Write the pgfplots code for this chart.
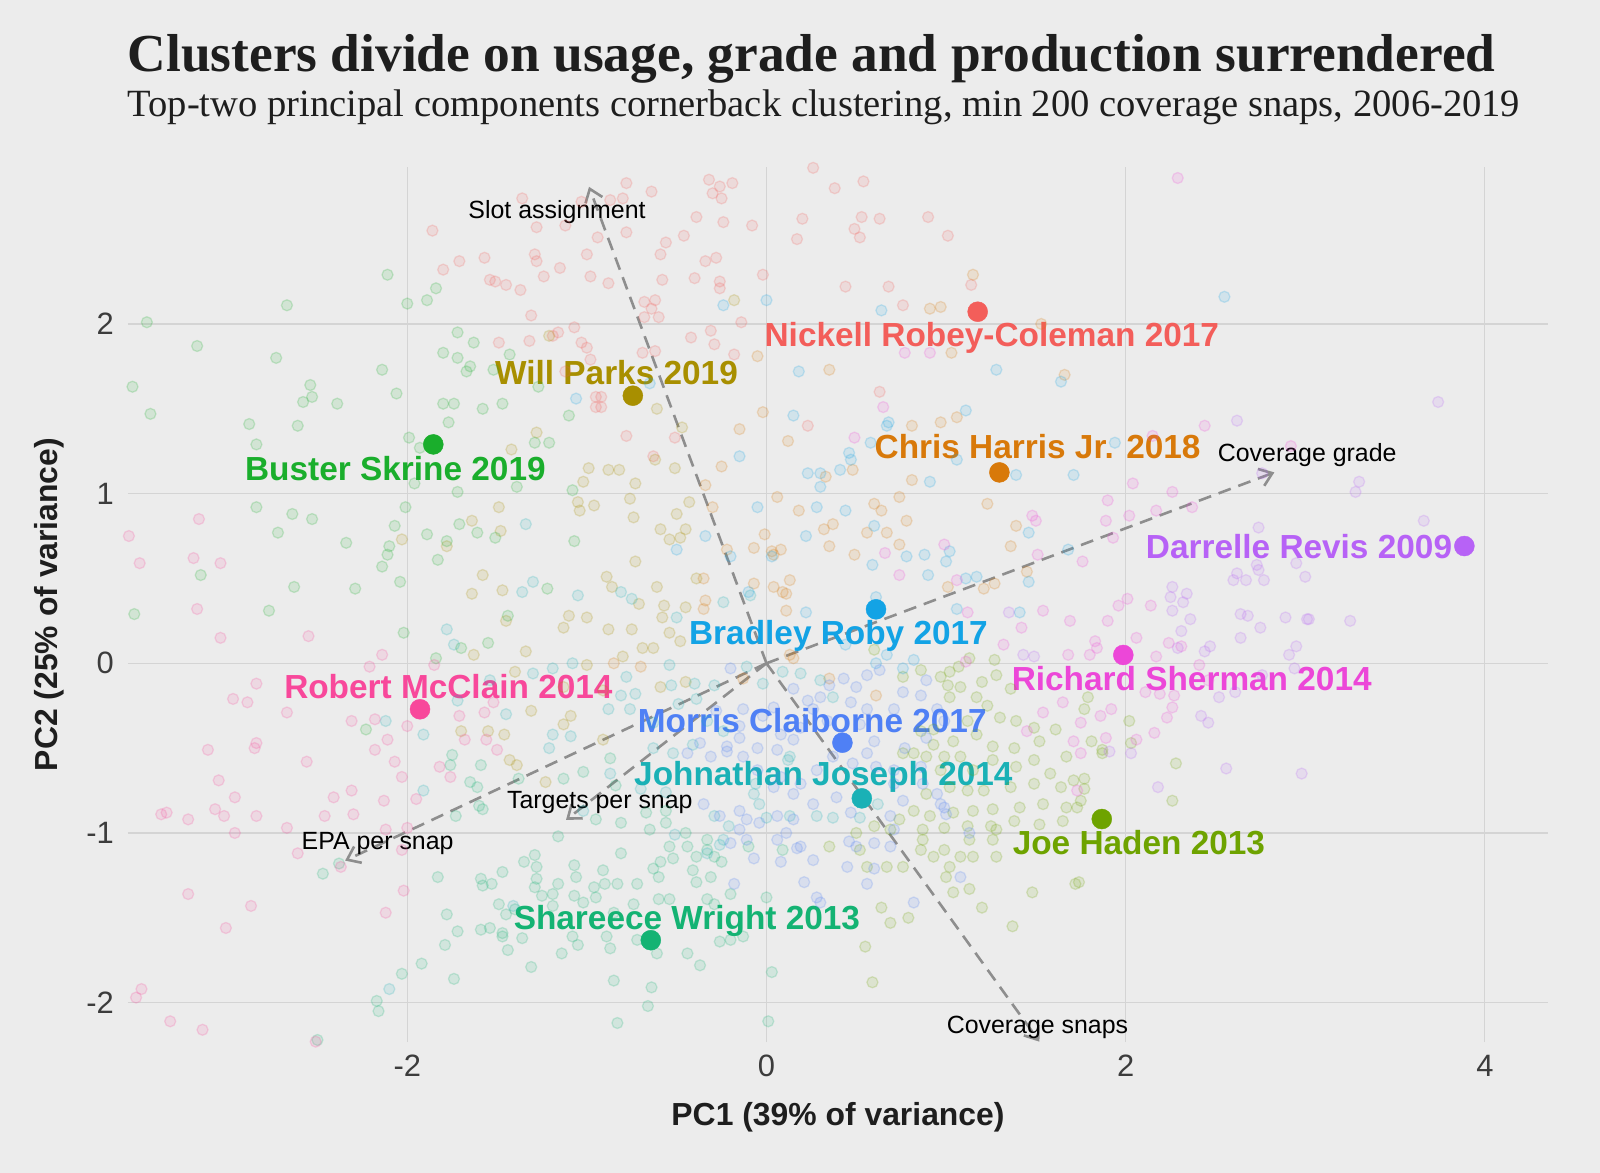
\documentclass[border=0pt]{standalone}
\usepackage{pgfplots}
\pgfplotsset{compat=1.18}
\usepackage{fontspec}
\setmainfont{Liberation Serif}
\newfontfamily\sansf{Liberation Sans}
\usetikzlibrary{arrows.meta}
\definecolor{bg}{HTML}{ECECEC}
\definecolor{gridc}{HTML}{D4D4D4}
\definecolor{titlec}{HTML}{1E1E1E}
\definecolor{tickc}{HTML}{3C3C3C}
\definecolor{arrowc}{HTML}{8E8E8E}
\definecolor{cnrc}{HTML}{F35E5A}
\definecolor{cchj}{HTML}{D8790A}
\definecolor{cwp}{HTML}{A88F00}
\definecolor{cjh}{HTML}{6EA300}
\definecolor{cbs}{HTML}{1AAE2C}
\definecolor{csw}{HTML}{14B373}
\definecolor{cjj}{HTML}{1AB1B6}
\definecolor{cbr}{HTML}{13A3E5}
\definecolor{cmc}{HTML}{4F80F5}
\definecolor{cdr}{HTML}{B762F6}
\definecolor{crs}{HTML}{EC47D8}
\definecolor{crm}{HTML}{F8489B}
\pgfplotsset{
  bgpt/.style={only marks, mark=*, mark size=5.5bp, color=#1,
    mark options={draw=#1, fill=#1, fill opacity=0.12, draw opacity=0.2, line width=1.3bp}},
  hlpt/.style={only marks, mark=*, mark size=10bp, color=#1, mark options={draw=#1, fill=#1}},
  ldg/.style={arrowc, line width=2.6bp, dash pattern=on 13bp off 8bp,
    -{Straight Barb[length=12bp,width=18bp]}}
}
\newcommand{\hlfont}{\sansf\bfseries\fontsize{33.5}{33.5}\selectfont}
\newcommand{\arfont}{\sansf\fontsize{25}{25}\selectfont}
\begin{document}
\begin{tikzpicture}
% axis box lower-left corner sits at (0,0); page is 1600bp x 1173bp
\fill[bg] (-128bp,-131bp) rectangle (1472bp,1042bp);
\useasboundingbox (-128bp,-131bp) rectangle (1472bp,1042bp);
\node[anchor=base west, inner sep=0pt, text=titlec, font=\bfseries\fontsize{53.6}{53.6}\selectfont] at (-0.5bp,970.3bp) {Clusters divide on usage, grade and production surrendered};
\node[anchor=base west, inner sep=0pt, text=titlec, font=\fontsize{38.7}{38.7}\selectfont] at (-0.5bp,925.3bp) {Top-two principal components cornerback clustering, min 200 coverage snaps, 2006-2019};
\begin{axis}[
  scale only axis, width=1420bp, height=875bp,
  xmin=-3.555, xmax=4.352, ymin=-2.232, ymax=2.925,
  axis line style={draw=none}, tick style={draw=none},
  grid=major, major grid style={color=gridc, line width=1.3bp},
  xtick={-2,0,2,4}, xticklabels={-2,0,2,4},
  ytick={-2,-1,0,1,2}, yticklabels={-2,-1,0,1,2},
  ticklabel style={font=\sansf\fontsize{31}{31}\selectfont, text=tickc},
  xticklabel style={anchor=north, inner sep=0pt, yshift=-13bp},
  yticklabel style={anchor=east, inner sep=0pt, xshift=-14bp},
  xlabel={PC1 (39\% of variance)}, ylabel={PC2 (25\% of variance)},
  label style={font=\sansf\bfseries\fontsize{32}{32}\selectfont, text=titlec},
  xlabel style={at={(axis description cs:0.5,-0.0855)}, anchor=center, inner sep=0pt},
  ylabel style={at={(axis description cs:-0.0553,0.5)}, anchor=center, inner sep=0pt},
  clip=false,
]
% red cluster
\addplot[bgpt=cnrc] coordinates {
(-1.86,2.55) (-1.80,2.32) (-1.71,2.37) (-1.57,2.39) (-1.54,2.26) (-1.51,2.25) (-1.45,2.23) (-1.37,2.20) (-1.36,2.74) (-1.28,2.57) (-1.29,2.41) (-1.28,2.37) (-1.24,2.28) (-1.15,2.33) (-1.12,2.58) (-1.03,2.72) (-1.00,2.41) (-0.98,2.28) (-0.94,2.51) (-1.31,2.05) (-1.49,1.89) (-1.32,1.90) (-1.16,1.95) (-1.19,1.93) (-1.07,1.98) (-1.03,1.89) (-1.00,1.86) (-0.98,1.79) (-1.12,1.72) (-0.95,1.57) (-0.95,1.51)
(0.26,2.92) (-0.78,2.83) (-0.64,2.78) (-0.32,2.85) (-0.26,2.81) (-0.19,2.83) (-0.30,2.77) (-0.25,2.74) (0.38,2.80) (0.54,2.84) (-0.39,2.63) (-0.24,2.60) (-0.08,2.58) (0.20,2.62) (0.53,2.63) (0.63,2.62) (0.90,2.63) (0.49,2.56) (0.52,2.51) (0.17,2.50) (1.01,2.52) (-0.78,2.54) (-0.87,2.73) (-0.80,2.74) (-0.56,2.48) (-0.46,2.52) (-0.59,2.41) (-0.34,2.37) (-0.28,2.39) (-0.58,2.26) (-0.40,2.27) (-0.88,2.24) (-0.26,2.25) (-0.26,2.21) (-0.02,2.29) (-0.68,2.13) (-0.62,2.14) (-0.64,2.09) (-0.68,2.04) (-0.60,2.04) (-0.14,2.01) (-0.42,1.92) (-0.31,1.96) (-0.29,1.88) (-0.69,1.83) (-0.62,1.84) (-0.18,1.82) (0.44,2.22) (0.68,2.22) (0.76,2.11) (1.14,2.23) (0.63,1.60) (0.23,1.40) (-0.78,1.34) (-0.51,1.33) (-0.63,1.22) (-0.92,1.57) (-0.92,1.51)
};
% orange cluster
\addplot[bgpt=cchj] coordinates {
(1.15,2.29) (0.91,2.09) (0.97,2.10) (1.03,1.83) (1.53,2.00) (1.66,1.70) (0.35,1.73) (-0.05,1.81) (-0.02,1.48) (-0.15,1.38) (0.81,1.40) (0.97,1.42) (1.06,1.45) (0.12,1.31)
(-0.25,1.16) (-0.30,0.92) (-0.34,1.05) (-0.35,0.50) (-0.22,0.67) (-0.07,0.68) (-0.01,0.76) (0.03,0.66) (0.04,0.64) (0.08,0.67) (-0.07,0.47) (0.04,0.45) (0.09,0.42) (0.11,0.41) (0.13,0.49) (0.11,0.31) (0.06,0.98) (0.18,0.90) (0.32,0.79) (0.37,0.82) (0.35,0.69) (0.49,0.64) (0.56,0.77) (0.60,0.94) (0.64,0.90) (0.67,0.77) (0.74,0.70) (0.78,0.84) (0.74,0.98) (0.48,1.14) (0.33,1.10) (1.23,0.94) (1.39,0.81) (1.36,0.69) (1.45,0.54) (1.27,0.47) (1.01,0.45) (0.81,1.08) (0.15,0.03) (0.13,0.05) (0.61,-0.19) (0.35,-0.09) (-0.13,-0.09) (-0.34,0.37) (-0.35,0.32) (1.21,0.44)
(-0.85,0.00) (-0.70,-0.02)
};
% olive cluster
\addplot[bgpt=cwp] coordinates {
(-1.21,1.93) (-1.28,1.36) (-1.42,1.26) (-0.61,1.50) (-0.47,1.39) (-0.18,2.14)
(-1.64,0.84) (-1.49,0.92) (-1.48,0.78) (-1.78,0.69) (-2.03,0.73) (-1.58,0.52) (-1.64,0.41) (-1.47,0.43) (-1.45,0.25) (-1.63,0.05) (-1.34,0.07) (-1.40,-0.05) (-1.31,-0.28) (-1.13,0.21) (-1.10,0.28) (-1.00,0.27) (-1.00,-0.01) (-1.09,-0.31) (-1.13,-0.36) (-1.55,-0.40) (-1.46,-0.42) (-1.70,-0.40)
(-1.02,1.07) (-0.99,1.15) (-1.05,0.95) (-1.04,0.90) (-0.96,0.93)
(-0.88,1.14) (-0.82,1.14) (-0.73,1.06) (-0.76,0.97) (-0.74,0.86) (-0.62,1.20) (-0.51,1.15) (-0.59,0.79) (-0.54,0.73) (-0.48,0.74) (-0.45,0.79) (-0.50,0.88) (-0.43,0.95) (-0.73,0.60) (-0.89,0.51) (-0.86,0.45) (-0.61,0.45) (-0.39,0.50) (-0.71,0.35) (-0.57,0.34) (-0.45,0.33) (-0.75,0.20) (-0.88,0.20) (-0.58,0.27) (-0.54,0.18) (-0.48,0.13) (-0.69,0.09) (-0.63,0.09) (-0.80,0.04) (-0.45,-0.11) (-0.59,-0.14)
(-1.43,-0.57) (-1.39,-0.60) (-1.23,-0.70) (-1.13,-0.14) (-0.91,-0.16) (-0.91,-0.45)
};
% yellow-green cluster
\addplot[bgpt=cjh] coordinates {
(0.76,-0.08) (0.86,-0.04) (1.02,-0.05) (1.07,-0.02) (1.13,0.03) (1.01,-0.13) (1.20,-0.11) (1.27,0.02) (1.28,-0.07) (1.36,-0.15) (1.23,-0.25) (1.30,-0.32) (1.39,-0.34) (1.49,-0.38) (1.61,-0.39) (1.52,-0.46) (1.12,-0.34) (1.04,-0.46) (1.17,-0.42) (0.93,-0.48) (0.86,-0.40) (1.38,-0.50) (0.60,0.08)
(1.79,-0.20) (1.77,-0.27) (1.81,-0.46) (2.02,-0.34) (2.03,-0.47) (1.87,-0.51)
(0.82,-0.53) (0.89,-0.55) (0.97,-0.63) (1.08,-0.55) (1.15,-0.63) (1.26,-0.57) (1.39,-0.61) (1.49,-0.57) (1.58,-0.65) (1.67,-0.55) (1.71,-0.69) (1.64,-0.73) (1.49,-0.71) (1.36,-0.73) (1.21,-0.75) (1.12,-0.75) (1.02,-0.73) (0.89,-0.77) (0.82,-0.87) (0.91,-0.90) (1.04,-0.88) (1.15,-0.87) (1.26,-0.86) (1.41,-0.85) (1.54,-0.83) (1.67,-0.85) (1.65,-0.93) (1.52,-0.95) (1.38,-0.93) (1.25,-0.96) (1.12,-0.96) (0.99,-0.97) (0.87,-0.98) (0.69,-0.98) (0.60,-0.96) (0.50,-1.00) (0.35,-1.08) (0.52,-1.10) (0.56,-1.20) (0.67,-1.20) (0.76,-1.20) (0.86,-1.10) (0.93,-1.14) (0.99,-1.10) (1.08,-1.14) (1.02,-1.20) (1.15,-1.14) (1.28,-1.14) (1.28,-0.98) (1.00,-1.26) (1.04,-1.35) (1.13,-1.33) (1.20,-1.44) (1.37,-1.55) (1.48,-1.35) (1.72,-1.30) (0.79,-1.50) (0.69,-1.53) (0.64,-1.44) (0.55,-1.67) (0.59,-1.88)
(2.28,-0.59) (2.26,-0.81) (1.77,-0.68) (1.77,-0.74) (1.75,-0.81) (1.74,-1.29) (1.73,-0.85) (1.87,-0.53)
(0.97,-0.08) (1.02,-0.20) (1.08,-0.14) (1.17,-0.20) (0.93,-0.39) (0.76,-0.53) (0.99,-0.55) (1.26,-0.49) (0.74,-0.92) (0.87,-1.04) (1.13,-1.04) (1.26,-1.04)
};
% green cluster
\addplot[bgpt=cbs] coordinates {
(-2.11,2.29) (-2.67,2.11) (-3.45,2.01) (-3.17,1.87) (-2.73,1.80) (-2.00,2.12) (-1.89,2.14) (-1.84,2.21) (-1.72,1.95) (-1.63,1.89) (-1.80,1.83) (-1.72,1.80) (-1.65,1.75) (-1.67,1.72) (-1.43,1.82) (-1.52,1.73) (-2.14,1.73) (-2.54,1.64) (-2.53,1.57) (-2.58,1.54) (-2.39,1.53) (-2.06,1.59) (-3.53,1.63) (-3.43,1.47) (-2.88,1.41) (-2.61,1.40) (-2.84,1.29) (-1.80,1.53) (-1.74,1.53) (-1.77,1.42) (-1.58,1.50) (-1.47,1.53) (-1.99,1.33) (-1.93,1.27) (-1.27,1.63) (-1.10,1.46) (-1.29,1.30) (-1.21,1.30)
(-2.84,0.92) (-2.64,0.88) (-2.53,0.85) (-2.72,0.77) (-2.34,0.71) (-3.15,0.52) (-2.63,0.45) (-2.29,0.44) (-2.77,0.31) (-3.52,0.29) (-2.01,0.92) (-2.07,0.81) (-2.10,0.69) (-2.11,0.64) (-2.14,0.57) (-2.04,0.48) (-2.02,0.18) (-1.89,0.76) (-1.78,0.72) (-1.83,0.61) (-1.71,0.82) (-1.61,0.77) (-1.51,0.74) (-1.72,1.01) (-1.96,1.06) (-1.55,0.12) (-1.44,0.28) (-1.70,0.09) (-1.84,0.03) (-1.07,0.72) (-1.22,0.44) (-1.08,1.02) (-1.39,1.04) (-2.23,-0.39)
};
% teal-green cluster
\addplot[bgpt=csw] coordinates {
(-2.47,-1.24) (-2.38,-1.18) (-1.73,-0.90) (-1.65,-0.70) (-1.61,-0.73) (-1.59,-0.60) (-1.76,-0.60) (-1.75,-0.54) (-1.58,-0.86) (-1.60,-0.84) (-1.38,-0.68) (-1.02,-0.64) (-1.13,-0.68) (-1.16,-1.02) (-1.35,-1.17) (-1.29,-1.13) (-1.28,-1.20) (-1.28,-1.27) (-1.29,-1.32) (-1.25,-1.37) (-1.19,-1.36) (-1.16,-1.30) (-1.07,-1.19) (-1.06,-1.26) (-1.07,-1.37) (-1.02,-1.41) (-1.19,-1.43) (-1.47,-1.23) (-1.53,-1.30) (-1.59,-1.27) (-1.58,-1.31) (-1.49,-1.42) (-1.45,-1.48) (-1.40,-1.45) (-1.59,-1.57) (-1.54,-1.56) (-1.47,-1.59) (-1.47,-1.61) (-1.44,-1.69) (-1.36,-1.62) (-1.31,-1.79) (-1.14,-1.71) (-1.08,-1.61) (-1.05,-1.66) (-1.72,-1.58) (-1.78,-1.48) (-1.83,-1.26) (-1.79,-1.66) (-1.92,-1.77) (-2.03,-1.83) (-1.74,-1.86) (-2.17,-1.99) (-2.16,-2.05) (-0.96,-1.32) (-0.95,-1.38) (-2.50,-2.22)
(-0.87,-0.56) (-0.84,-0.72) (-0.81,-0.94) (-0.67,-0.88) (-0.65,-0.98) (-0.56,-0.87) (-0.45,-1.00) (-0.44,-1.08) (-0.39,-1.14) (-0.33,-1.10) (-0.29,-1.14) (-0.25,-1.17) (-0.59,-1.17) (-0.63,-1.21) (-0.60,-1.26) (-0.81,-1.12) (-0.91,-1.22) (-0.90,-1.30) (-0.83,-1.30) (-0.72,-1.30) (-0.52,-1.15) (-0.41,-1.22) (-0.39,-1.29) (-0.31,-1.26) (-0.60,-1.39) (-0.54,-1.39) (-0.33,-1.39) (-0.29,-1.42) (-0.74,-1.42) (-0.85,-1.47) (-0.89,-1.61) (-0.87,-1.68) (-0.72,-1.63) (-0.61,-1.71) (-0.44,-1.71) (-0.37,-1.78) (-0.26,-1.64) (-0.20,-1.63) (-0.85,-1.87) (-0.64,-1.91) (-0.66,-2.02) (-0.83,-2.12) (0.01,-2.11) (0.03,-1.82) (-0.13,-1.61) (0.00,-1.38) (-0.20,-1.36) (-0.10,-1.08) (0.09,-1.10)
(-0.95,-0.92) (-0.56,-0.94) (-0.54,-1.08) (-0.33,-1.04)
};
% teal cluster
\addplot[bgpt=cjj] coordinates {
(-1.34,0.82) (-1.30,0.48) (-1.36,0.42) (-1.05,0.40) (-1.78,0.20) (-1.74,0.11) (-1.08,0.00) (-1.19,-0.03) (-1.30,-0.06) (-1.54,-0.10) (-1.72,-0.22) (-1.45,-0.30) (-1.19,-0.42) (-1.21,-0.50) (-1.91,-0.42) (-2.12,-0.34)
(-0.81,0.42) (-0.75,0.38) (-0.50,0.27) (-0.24,0.36) (-0.09,0.40) (-0.54,-0.01) (-0.78,-0.08) (-0.81,-0.19) (-0.73,-0.18) (-0.88,-0.27) (-0.76,-0.27) (-0.53,-0.13) (-0.40,-0.12) (-0.49,-0.24) (-0.39,-0.21) (-0.29,-0.13) (-0.11,-0.02) (0.09,-0.05) (-0.02,-0.12) (-0.63,-0.50) (-0.41,-0.48) (-0.24,-0.40) (-0.33,-0.34)
(-1.91,-0.75) (-2.10,-1.92) (-1.41,-1.43) (-1.02,-0.87)
(-0.70,-0.74) (-0.56,-0.76) (-0.51,-1.01) (-0.33,-1.12) (-0.26,-1.07) (-0.21,-0.96) (-0.29,-0.90) (-0.07,-0.77) (-0.06,-0.71) (-0.04,-0.83) (0.00,-0.91) (0.12,-0.57) (0.28,-0.90) (0.37,-0.91) (0.62,-0.83) (0.52,-0.91) (0.13,-0.90)
(-0.63,-0.35) (-0.52,-0.53) (-0.87,-0.65) (-1.09,-0.43) (-0.24,-1.04) (0.19,-0.06) (0.30,-0.10) (0.37,-0.20) (0.13,-0.55)
};
% light blue cluster
\addplot[bgpt=cbr] coordinates {
(-1.06,1.56) (-0.24,2.11) (0.00,2.14) (0.64,2.08) (0.18,1.72) (1.28,1.73) (1.64,1.66) (0.15,1.46) (1.11,1.49) (0.68,1.42) (0.67,1.40) (0.58,1.30) (0.46,1.24) (-0.15,1.22) (-0.65,1.65) (2.55,2.16) (1.94,1.30)
(-0.05,0.92) (0.28,0.92) (0.44,0.90) (0.23,1.12) (0.30,1.12) (0.30,1.04) (0.41,1.14) (0.47,1.20) (0.91,1.07) (1.06,1.20) (1.39,1.11) (1.71,1.11) (1.46,0.77) (1.46,0.48) (1.17,0.51) (1.11,0.50) (1.00,0.60) (1.02,0.66) (0.88,0.64) (0.90,0.52) (0.78,0.63) (0.59,0.58) (0.60,0.81) (0.22,0.75) (-0.34,0.75) (-0.20,0.63) (0.03,0.63) (-0.50,0.67) (-0.10,0.42) (0.61,0.39) (0.22,0.30) (1.06,0.32) (1.41,0.30) (1.68,0.67) (0.67,0.05) (0.76,-0.03) (0.82,0.02) (0.61,0.00) (0.44,0.11)
};
% blue cluster
\addplot[bgpt=cmc] coordinates {
(-0.20,-0.03) (0.04,-0.26) (0.15,-0.15) (0.23,-0.22) (0.26,-0.27) (0.35,-0.13) (0.43,-0.09) (0.50,-0.14) (0.56,-0.07) (0.47,-0.23) (0.56,-0.27) (0.71,-0.27) (0.76,-0.17) (0.86,-0.19) (0.95,-0.27) (0.99,-0.34) (0.89,-0.44) (0.77,-0.50) (0.60,-0.46) (0.52,-0.36) (0.34,-0.34) (0.19,-0.38) (0.08,-0.42) (-0.05,-0.50) (-0.15,-0.44) (-0.22,-0.49) (-0.02,-0.31) (-0.13,-0.27)
(-0.31,-0.55) (-0.22,-0.52) (-0.13,-0.55) (-0.05,-0.63) (0.04,-0.73) (0.19,-0.71) (0.28,-0.63) (0.37,-0.55) (0.48,-0.59) (0.56,-0.53) (0.61,-0.61) (0.71,-0.71) (0.76,-0.81) (0.69,-0.90) (0.71,-0.98) (0.60,-1.06) (0.69,-1.08) (0.46,-1.05) (0.50,-1.08) (0.45,-1.20) (0.60,-1.21) (0.56,-1.30) (0.82,-1.41) (0.26,-1.16) (0.19,-1.08) (0.17,-1.09) (0.21,-1.29) (0.28,-1.38) (0.30,-1.41) (0.08,-1.17) (0.06,-1.04) (-0.11,-0.92) (-0.15,-0.87) (-0.15,-0.98) (-0.20,-1.06) (-0.18,-1.30) (-0.07,-1.15) (0.11,-1.00) (0.26,-0.83) (0.39,-0.79) (0.86,-0.61) (0.99,-0.85) (1.00,-0.89) (1.13,-1.00) (1.08,-1.26) (0.97,-0.83)
(-0.28,-0.28) (0.06,-0.51) (0.15,-0.45) (0.30,-0.20) (0.71,-0.63) (0.47,-0.88) (0.15,-0.92) (0.06,-0.90) (-0.04,-0.94) (-0.26,-0.90) (-0.35,-0.83) (-0.11,-1.04) (0.87,-0.71) (0.95,-0.77) (0.89,-0.10) (0.63,-0.04) (0.15,-0.77) (0.08,-0.67) (-0.37,-0.47) (-0.44,-0.53) (-0.15,-0.37)
};
% purple cluster
\addplot[bgpt=cdr] coordinates {
(3.74,1.54) (2.62,1.43) (3.30,1.07) (3.28,1.01) (3.66,0.84) (2.74,0.80) (2.95,0.59) (3.00,0.51) (2.73,0.58) (2.74,0.55) (2.77,0.49) (2.62,0.53) (2.67,0.49) (2.60,0.49) (2.64,0.29) (2.68,0.28) (2.75,0.21) (2.89,0.27) (3.01,0.26) (3.02,0.26) (3.25,0.25) (2.95,0.10) (2.91,0.05) (2.64,0.15) (2.94,-0.03) (2.76,-0.07) (2.61,-0.17) (2.52,-0.20) (2.46,-0.35) (2.42,-0.31) (2.76,1.12) (2.56,-0.62) (2.98,-0.65) (2.18,-0.73) (2.03,-0.53) (1.91,-0.52) (2.26,0.45) (2.25,0.39) (2.32,0.36) (2.34,0.41) (2.26,0.31) (2.36,0.26) (2.31,0.19) (2.44,0.07) (2.47,0.10) (2.29,0.09) (1.35,0.30) (1.43,0.05) (1.49,0.04)
};
% magenta cluster
\addplot[bgpt=crs] coordinates {
(2.29,2.86) (2.44,1.40) (2.15,1.34) (2.92,1.28) (0.77,1.83) (0.91,1.83) (0.65,1.51) (0.49,1.33) (2.24,0.12) (2.31,0.10) (2.41,-0.01) (2.17,0.04) (2.14,0.34) (2.06,0.15) (2.01,0.38) (1.96,0.34) (1.90,0.25) (1.83,0.13) (1.84,0.09) (1.80,0.05) (1.76,0.60) (1.93,0.74) (1.89,0.84) (1.90,0.96) (2.02,0.87) (2.17,0.90) (2.26,1.01) (2.37,0.92) (2.04,1.06) (2.27,-0.19) (2.19,-0.18) (2.11,-0.17) (1.92,-0.27) (1.86,-0.31) (1.75,-0.35) (2.16,-0.41) (2.23,-0.32) (2.26,-0.26) (2.46,-0.10) (1.89,-0.44) (2.06,-0.45) (1.73,-0.75) (1.75,-0.53)
(0.74,0.52) (0.66,0.65) (0.99,0.70) (1.48,0.87) (1.50,0.84) (1.51,0.64) (1.54,0.31) (1.12,0.30) (1.69,0.25) (1.42,0.21) (1.32,0.11) (1.68,0.05) (1.11,0.01) (1.65,-0.23) (1.54,-0.29) (1.45,-0.40) (1.71,-0.46) (1.06,0.49)
};
% pink cluster
\addplot[bgpt=crm] coordinates {
(-3.16,0.85) (-3.49,0.59) (-3.19,0.62) (-3.04,0.59) (-3.17,0.32) (-3.04,0.15) (-2.55,0.16) (-2.14,0.05) (-2.21,-0.02) (-1.85,-0.01) (-2.84,-0.12) (-2.97,-0.21) (-2.89,-0.23) (-2.67,-0.29) (-2.31,-0.34) (-2.18,-0.33) (-2.00,-0.37) (-2.11,-0.45) (-1.71,-0.31) (-1.68,-0.45) (-1.57,-0.29) (-1.56,-0.45) (-1.52,-0.23) (-1.50,-0.51) (-2.84,-0.47) (-2.85,-0.50) (-3.11,-0.51) (-2.18,-0.51) (-3.55,0.75)
(-2.56,-0.58) (-2.07,-0.58) (-2.03,-0.67) (-3.05,-0.69) (-2.96,-0.79) (-3.07,-0.86) (-3.02,-0.90) (-2.84,-0.90) (-3.37,-0.89) (-3.34,-0.88) (-3.22,-0.92) (-2.96,-1.00) (-2.67,-0.97) (-2.46,-0.90) (-2.41,-0.79) (-2.31,-0.75) (-2.30,-0.89) (-2.13,-0.81) (-1.95,-0.80) (-2.12,-0.98) (-2.00,-0.97) (-1.82,-0.61) (-1.76,-0.67) (-2.61,-1.12) (-2.37,-1.20) (-2.02,-1.34) (-3.22,-1.36) (-2.87,-1.43) (-3.01,-1.56) (-2.12,-1.47) (-3.48,-1.92) (-3.51,-1.97) (-3.32,-2.11) (-3.14,-2.16) (-2.03,-1.10) (-2.51,-2.23)
};
% loading arrows
\addplot[ldg] coordinates {(0,0) (-0.988,2.808)};
\addplot[ldg] coordinates {(0,0) (1.52,-2.23)};
\addplot[ldg] coordinates {(0,0) (2.828,1.125)};
\addplot[ldg] coordinates {(0,0) (-2.346,-1.163)};
\addplot[ldg] coordinates {(0,0) (-1.116,-0.923)};
\node[anchor=base, font=\arfont, text=black] at (axis cs:-1.166,2.622) {Slot assignment};
\node[anchor=base, font=\arfont, text=black] at (axis cs:1.509,-2.180) {Coverage snaps};
\node[anchor=base, font=\arfont, text=black] at (axis cs:3.011,1.191) {Coverage grade};
\node[anchor=base, font=\arfont, text=black] at (axis cs:-2.165,-1.100) {EPA per snap};
\node[anchor=base, font=\arfont, text=black] at (axis cs:-0.928,-0.854) {Targets per snap};
% highlighted players
\addplot[hlpt=cnrc] coordinates {(1.176,2.072)};
\addplot[hlpt=cwp] coordinates {(-0.744,1.577)};
\addplot[hlpt=cbs] coordinates {(-1.855,1.290)};
\addplot[hlpt=cchj] coordinates {(1.297,1.125)};
\addplot[hlpt=cdr] coordinates {(3.886,0.691)};
\addplot[hlpt=cbr] coordinates {(0.610,0.318)};
\addplot[hlpt=crs] coordinates {(1.987,0.049)};
\addplot[hlpt=crm] coordinates {(-1.929,-0.271)};
\addplot[hlpt=cmc] coordinates {(0.423,-0.468)};
\addplot[hlpt=cjj] coordinates {(0.531,-0.796)};
\addplot[hlpt=cjh] coordinates {(1.867,-0.918)};
\addplot[hlpt=csw] coordinates {(-0.644,-1.632)};
\node[anchor=base, font=\hlfont, text=cnrc] at (axis cs:1.255,1.866) {Nickell Robey-Coleman 2017};
\node[anchor=base, font=\hlfont, text=cwp] at (axis cs:-0.835,1.646) {Will Parks 2019};
\node[anchor=base, font=\hlfont, text=cbs] at (axis cs:-2.066,1.080) {Buster Skrine 2019};
\node[anchor=base, font=\hlfont, text=cchj] at (axis cs:1.510,1.208) {Chris Harris Jr. 2018};
\node[anchor=base east, inner sep=0pt, font=\hlfont, text=cdr] at (axis cs:3.819,0.619) {Darrelle Revis 2009};
\node[anchor=base, font=\hlfont, text=cbr] at (axis cs:0.401,0.108) {Bradley Roby 2017};
\node[anchor=base, font=\hlfont, text=crs] at (axis cs:2.368,-0.161) {Richard Sherman 2014};
\node[anchor=base, font=\hlfont, text=crm] at (axis cs:-1.771,-0.206) {Robert McClain 2014};
\node[anchor=base, font=\hlfont, text=cmc] at (axis cs:0.255,-0.409) {Morris Claiborne 2017};
\node[anchor=base, font=\hlfont, text=cjj] at (axis cs:0.317,-0.723) {Johnathan Joseph 2014};
\node[anchor=base, font=\hlfont, text=cjh] at (axis cs:2.074,-1.126) {Joe Haden 2013};
\node[anchor=base, font=\hlfont, text=csw] at (axis cs:-0.443,-1.568) {Shareece Wright 2013};
\end{axis}
\end{tikzpicture}
\end{document}
